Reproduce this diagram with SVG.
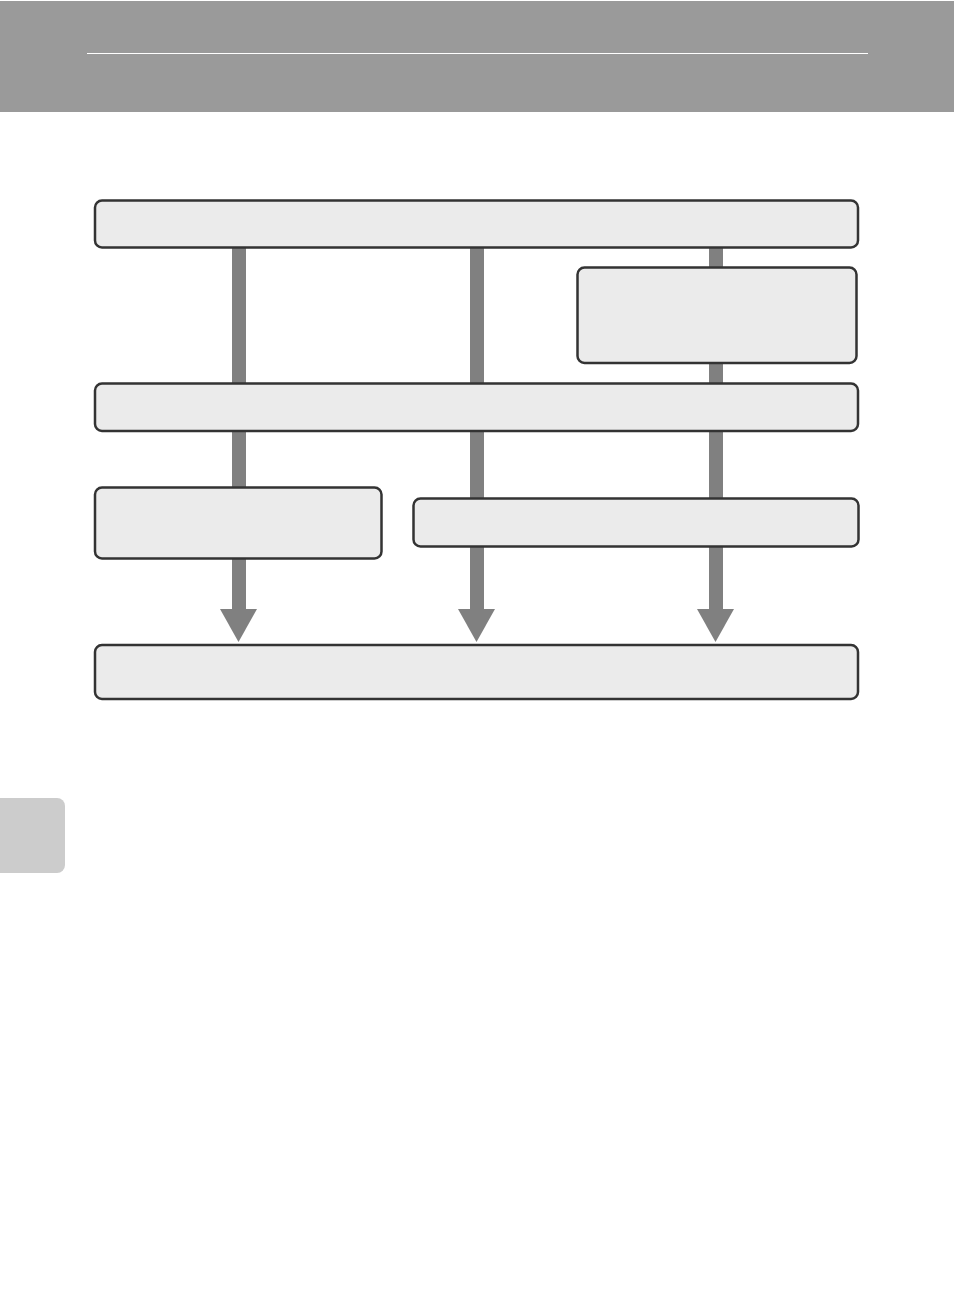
<svg xmlns="http://www.w3.org/2000/svg" width="954" height="1313" viewBox="0 0 954 1313">
<style>
.box{fill:#ebebeb;stroke:#333333;stroke-width:2.5}
.bar{fill:#808080}
</style>
<rect x="0" y="0" width="954" height="1313" fill="#ffffff"/>
<g id="header">
<rect x="0" y="1" width="954" height="111" fill="#9a9a9a"/>
<line x1="87" y1="53.5" x2="868" y2="53.5" stroke="#ffffff" stroke-width="1.2"/>
</g>
<g id="side-tab">
<rect x="-12" y="798" width="77" height="75" rx="8" fill="#cccccc"/>
</g>
<g id="connectors">
<rect class="bar" x="232" y="247" width="14" height="363"/>
<polygon class="bar" points="220,609 257,609 238.5,642"/>
<rect class="bar" x="470" y="247" width="14" height="363"/>
<polygon class="bar" points="458,609 495,609 476.5,642"/>
<rect class="bar" x="709" y="247" width="14" height="363"/>
<polygon class="bar" points="697,609 734,609 715.5,642"/>
</g>
<g id="node-top"><rect class="box" x="95" y="200.5" width="763" height="47" rx="7"/></g>
<g id="node-right"><rect class="box" x="577.5" y="267.5" width="279" height="95.5" rx="7"/></g>
<g id="node-middle"><rect class="box" x="95" y="383.5" width="763" height="47.5" rx="7"/></g>
<g id="node-left"><rect class="box" x="95" y="487.5" width="286.5" height="71" rx="7"/></g>
<g id="node-center-right"><rect class="box" x="413.5" y="498.5" width="445" height="48" rx="7"/></g>
<g id="node-bottom"><rect class="box" x="95" y="645" width="763" height="54" rx="7"/></g>
</svg>
